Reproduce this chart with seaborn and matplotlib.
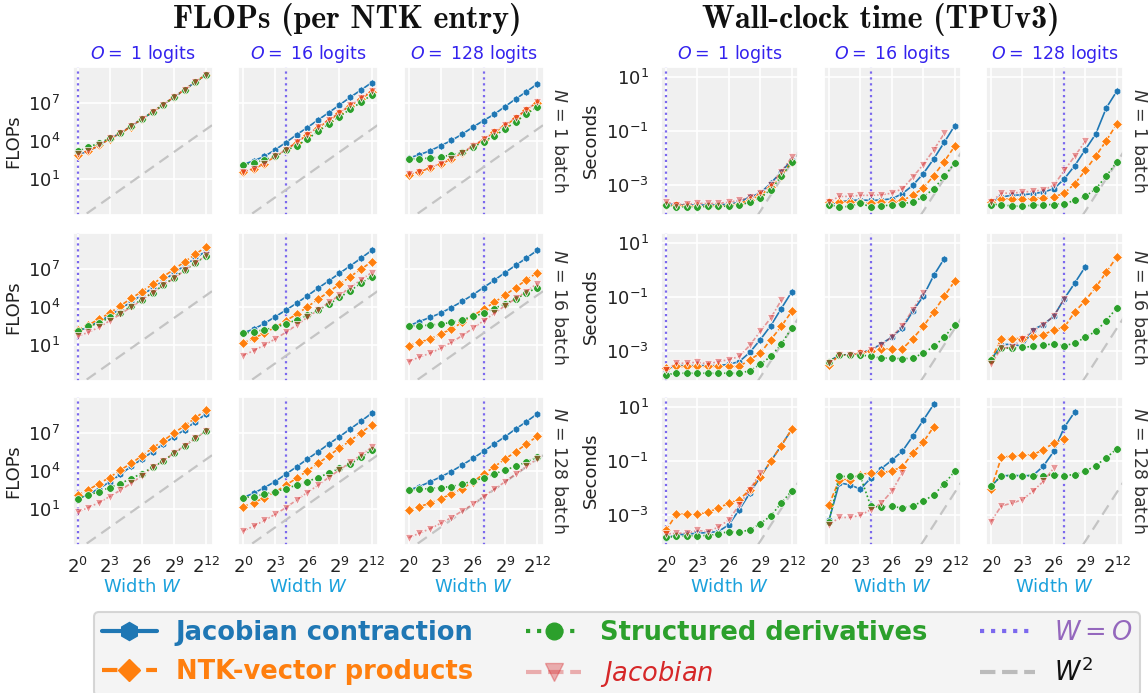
import os
import numpy as np
import pandas as pd
import matplotlib
matplotlib.use("Agg")
import matplotlib.pyplot as plt
from matplotlib.lines import Line2D
from matplotlib.ticker import LogFormatterMathtext, NullLocator
from matplotlib.font_manager import FontProperties
import seaborn as sns

sns.set_theme(style="darkgrid", rc={"axes.facecolor": "#f0f0f0", "grid.color": "white",
                                    "grid.linewidth": 1.2})

WIDTHS = [1, 2, 4, 8, 16, 32, 64, 128, 256, 512, 1024, 2048, 4096]
OUTPUTS = [1, 16, 128]
BATCHES = [1, 16, 128]
METHODS = ["Jacobian contraction", "NTK-vector products", "Structured derivatives", "Jacobian"]
KEYS = ["jc", "ntk", "sd", "jac"]

# log10 of FLOPs, per (batch N, logits O) panel
flops_n1_o1 = dict(
    jc=[2.9, 3.2, 3.65, 4.2, 4.6, 5.2, 5.75, 6.3, 6.9, 7.5, 8.1, 8.7, 9.3],
    ntk=[2.85, 3.2, 3.65, 4.15, 4.6, 5.15, 5.75, 6.3, 6.9, 7.5, 8.1, 8.7, 9.3],
    sd=[3.17, 3.5, 3.83, 4.2, 4.62, 5.2, 5.75, 6.3, 6.88, 7.48, 8.08, 8.68, 9.28],
    jac=[2.95, 3.2, 3.65, 4.2, 4.6, 5.2, 5.75, 6.32, 6.9, 7.5, 8.1, 8.7, 9.3])
flops_n1_o16 = dict(
    jc=[2.11, 2.43, 2.77, 3.3, 3.88, 4.5, 5.07, 5.68, 6.26, 6.87, 7.48, 8.06, 8.65],
    ntk=[1.5, 1.77, 2.2, 2.77, 3.3, 3.88, 4.5, 5.07, 5.63, 6.2, 6.8, 7.35, 7.93],
    sd=[2.11, 2.24, 2.5, 2.77, 3.25, 3.62, 4.15, 4.76, 5.37, 5.95, 6.53, 7.08, 7.67],
    jac=[1.55, 1.8, 2.2, 2.77, 3.3, 3.9, 4.5, 5.1, 5.68, 6.26, 6.85, 7.42, 8.0])
flops_n1_o128 = dict(
    jc=[2.64, 2.9, 3.22, 3.62, 4.04, 4.54, 5.1, 5.63, 6.13, 6.74, 7.35, 7.93, 8.54],
    ntk=[1.32, 1.53, 1.85, 2.16, 2.56, 3.04, 3.57, 4.1, 4.68, 5.23, 5.81, 6.48, 7.06],
    sd=[2.56, 2.59, 2.64, 2.72, 2.9, 3.1, 3.5, 3.96, 4.41, 4.94, 5.55, 6.13, 6.74],
    jac=[1.35, 1.55, 1.88, 2.2, 2.6, 3.08, 3.6, 4.15, 4.72, 5.28, 5.86, 6.5, 7.1])
flops_n16_o1 = dict(
    jc=[2.03, 2.4, 2.85, 3.3, 3.85, 4.4, 4.95, 5.5, 6.1, 6.7, 7.3, 7.9, 8.46],
    ntk=[2.16, 2.56, 3.04, 3.51, 4.1, 4.68, 5.23, 5.81, 6.42, 7.0, 7.61, 8.2, 8.8],
    sd=[2.08, 2.45, 2.72, 3.17, 3.51, 4.1, 4.57, 5.15, 5.73, 6.34, 6.93, 7.53, 8.06],
    jac=[1.66, 1.98, 2.38, 2.9, 3.43, 4.0, 4.55, 5.15, 5.73, 6.29, 6.93, 7.48, 8.12])
flops_n16_o16 = dict(
    jc=[1.93, 2.24, 2.69, 3.22, 3.75, 4.3, 4.89, 5.5, 6.08, 6.69, 7.27, 7.88, 8.51],
    ntk=[1.13, 1.5, 1.93, 2.38, 2.9, 3.43, 4.0, 4.62, 5.2, 5.81, 6.42, 7.0, 7.61],
    sd=[1.9, 2.03, 2.19, 2.38, 2.64, 2.98, 3.35, 3.75, 4.22, 4.76, 5.29, 5.9, 6.42],
    jac=[0.13, 0.52, 0.97, 1.45, 1.98, 2.56, 3.17, 3.75, 4.36, 4.94, 5.55, 6.16, 6.74])
flops_n16_o128 = dict(
    jc=[2.5, 2.83, 3.17, 3.51, 3.96, 4.44, 4.97, 5.55, 6.13, 6.74, 7.32, 7.9, 8.51],
    ntk=[0.92, 1.18, 1.45, 1.85, 2.24, 2.77, 3.3, 3.83, 4.36, 4.94, 5.55, 6.16, 6.74],
    sd=[2.5, 2.5, 2.56, 2.64, 2.77, 2.98, 3.25, 3.49, 3.88, 4.25, 4.65, 5.1, 5.55],
    jac=[-0.35, 0.0, 0.31, 0.71, 1.18, 1.71, 2.3, 2.9, 3.49, 4.1, 4.68, 5.23, 5.87])
flops_n128_o1 = dict(
    jc=[1.75, 2.15, 2.6, 3.13, 3.73, 4.36, 4.95, 5.53, 6.15, 6.73, 7.29, 7.93, 8.55],
    ntk=[2.09, 2.49, 3.0, 3.48, 4.08, 4.6, 5.21, 5.83, 6.41, 7.03, 7.61, 8.23, 8.87],
    sd=[1.8, 2.07, 2.36, 2.68, 3.0, 3.4, 3.8, 4.28, 4.81, 5.4, 6.01, 6.6, 7.21],
    jac=[0.73, 1.08, 1.48, 1.96, 2.47, 3.03, 3.61, 4.28, 4.81, 5.43, 6.01, 6.6, 7.21])
flops_n128_o16 = dict(
    jc=[1.88, 2.23, 2.68, 3.16, 3.75, 4.33, 4.95, 5.53, 6.15, 6.73, 7.35, 7.96, 8.6],
    ntk=[1.16, 1.48, 1.88, 2.33, 2.87, 3.43, 4.01, 4.6, 5.21, 5.83, 6.41, 7.03, 7.67],
    sd=[1.88, 1.96, 2.15, 2.36, 2.6, 2.87, 3.16, 3.48, 3.83, 4.2, 4.55, 5.08, 5.67],
    jac=[-0.79, -0.39, 0.07, 0.55, 1.08, 1.69, 2.28, 2.87, 3.48, 4.09, 4.68, 5.27, 5.88])
flops_n128_o128 = dict(
    jc=[2.47, 2.76, 3.13, 3.53, 3.96, 4.47, 5.0, 5.56, 6.15, 6.73, 7.35, 7.93, 8.55],
    ntk=[0.87, 1.16, 1.43, 1.8, 2.15, 2.6, 3.13, 3.75, 4.33, 4.95, 5.53, 6.15, 6.76],
    sd=[2.47, 2.55, 2.6, 2.68, 2.76, 2.95, 3.21, 3.43, 3.75, 4.09, 4.36, 4.73, 5.08],
    jac=[-1.32, -0.97, -0.6, -0.17, 0.28, 0.81, 1.35, 1.96, 2.55, 3.13, 3.75, 4.36, 4.95])

# log10 of seconds; shorter lists = runs that did not finish
time_n1_o1 = dict(
    jc=[-3.7, -3.75, -3.75, -3.75, -3.75, -3.75, -3.72, -3.65, -3.45, -3.31, -2.94, -2.53, -2.08],
    ntk=[-3.76, -3.76, -3.78, -3.78, -3.78, -3.78, -3.76, -3.7, -3.55, -3.39, -3.09, -2.66, -2.14],
    sd=[-3.73, -3.82, -3.82, -3.82, -3.8, -3.8, -3.79, -3.76, -3.64, -3.48, -3.18, -2.69, -2.16],
    jac=[-3.64, -3.73, -3.71, -3.69, -3.69, -3.69, -3.64, -3.58, -3.45, -3.31, -3.0, -2.53, -1.98])
time_n1_o16 = dict(
    jc=[-3.73, -3.64, -3.58, -3.56, -3.58, -3.56, -3.52, -3.33, -3.02, -2.59, -2.04, -1.43, -0.81],
    ntk=[-3.64, -3.64, -3.64, -3.64, -3.68, -3.64, -3.64, -3.58, -3.39, -3.12, -2.66, -2.14, -1.57],
    sd=[-3.73, -3.82, -3.8, -3.68, -3.82, -3.8, -3.73, -3.7, -3.64, -3.45, -3.15, -2.69, -2.19],
    jac=[-3.64, -3.43, -3.43, -3.39, -3.39, -3.37, -3.31, -3.15, -2.72, -2.25, -1.71, -1.1])
time_n1_o128 = dict(
    jc=[-3.64, -3.45, -3.39, -3.37, -3.33, -3.27, -3.15, -2.78, -2.29, -1.7, -1.12, -0.16, 0.46],
    ntk=[-3.64, -3.52, -3.54, -3.54, -3.52, -3.48, -3.45, -3.31, -2.96, -2.47, -1.94, -1.37, -0.75],
    sd=[-3.73, -3.73, -3.79, -3.79, -3.76, -3.74, -3.73, -3.7, -3.58, -3.43, -3.15, -2.68, -2.16],
    jac=[-3.64, -3.31, -3.31, -3.27, -3.24, -3.19, -3.02, -2.47, -1.94, -1.39])
time_n16_o1 = dict(
    jc=[-3.71, -3.55, -3.55, -3.55, -3.55, -3.55, -3.5, -3.4, -3.06, -2.59, -2.07, -1.44, -0.82],
    ntk=[-3.64, -3.58, -3.58, -3.58, -3.58, -3.58, -3.58, -3.58, -3.33, -3.09, -2.59, -2.1, -1.54],
    sd=[-3.89, -3.83, -3.83, -3.83, -3.83, -3.83, -3.83, -3.83, -3.74, -3.5, -3.21, -2.75, -2.16],
    jac=[-3.71, -3.46, -3.46, -3.42, -3.49, -3.4, -3.33, -3.21, -2.8, -2.28, -1.79, -1.13])
time_n16_o16 = dict(
    jc=[-3.4, -3.15, -3.15, -3.09, -2.96, -2.75, -2.49, -2.16, -1.54, -0.98, -0.21, 0.41],
    ntk=[-3.54, -3.15, -3.15, -3.09, -3.0, -2.95, -2.93, -2.93, -2.55, -2.1, -1.56, -0.98, -0.42],
    sd=[-3.4, -3.15, -3.15, -3.15, -3.21, -3.27, -3.27, -3.3, -3.27, -3.09, -2.84, -2.5, -2.03],
    jac=[-3.46, -3.15, -3.15, -3.09, -2.96, -2.78, -2.49, -2.07, -1.48, -0.86])
time_n16_o128 = dict(
    jc=[-3.33, -2.78, -2.75, -2.84, -2.22, -2.03, -1.72, -1.07, -0.49, 0.11],
    ntk=[-3.33, -2.55, -2.55, -2.55, -2.47, -2.41, -2.22, -2.13, -1.56, -1.14, -0.65, -0.09, 0.47],
    sd=[-3.33, -2.9, -2.9, -2.87, -2.84, -2.78, -2.75, -2.81, -2.72, -2.5, -2.28, -1.89, -1.41],
    jac=[-3.5, -2.9, -2.87, -2.55, -2.28, -2.03, -1.72, -1.07])
time_n128_o1 = dict(
    jc=[-3.87, -3.74, -3.72, -3.68, -3.66, -3.62, -3.37, -2.81, -2.2, -1.6, -1.02, -0.44, 0.16],
    ntk=[-3.58, -2.98, -2.98, -2.98, -2.91, -2.75, -2.57, -2.44, -2.07, -1.6, -1.02, -0.44, 0.16],
    sd=[-3.84, -3.8, -3.78, -3.77, -3.77, -3.71, -3.62, -3.64, -3.56, -3.33, -3.04, -2.57, -2.11],
    jac=[-3.71, -3.68, -3.68, -3.58, -3.62, -3.46, -3.19, -2.63, -2.07, -1.45])
time_n128_o16 = dict(
    jc=[-3.21, -1.82, -1.89, -2.05, -1.64, -1.29, -0.98, -0.65, -0.09, 0.5, 1.09],
    ntk=[-2.63, -1.7, -1.7, -1.51, -1.45, -1.45, -1.37, -1.23, -0.71, -0.31, 0.26],
    sd=[-3.25, -1.58, -1.58, -1.58, -2.69, -2.71, -2.69, -2.75, -2.66, -2.5, -2.26, -1.86, -1.39],
    jac=[-3.37, -3.1, -3.1, -3.02, -2.81, -2.57, -2.13, -1.45])
time_n128_o128 = dict(
    jc=[-1.95, -1.55, -1.55, -1.55, -1.55, -1.2, -0.65, 0.24, 0.81],
    ntk=[-2.05, -0.87, -0.83, -0.8, -0.78, -0.59, -0.34, -0.21],
    sd=[-1.95, -1.55, -1.55, -1.55, -1.55, -1.55, -1.51, -1.55, -1.51, -1.39, -1.18, -0.89, -0.56],
    jac=[-3.25, -2.67, -2.57, -2.44, -2.13, -1.76, -1.27])

FLOPS = {(1, 1): flops_n1_o1, (1, 16): flops_n1_o16, (1, 128): flops_n1_o128,
         (16, 1): flops_n16_o1, (16, 16): flops_n16_o16, (16, 128): flops_n16_o128,
         (128, 1): flops_n128_o1, (128, 16): flops_n128_o16, (128, 128): flops_n128_o128}
TIMES = {(1, 1): time_n1_o1, (1, 16): time_n1_o16, (1, 128): time_n1_o128,
         (16, 1): time_n16_o1, (16, 16): time_n16_o16, (16, 128): time_n16_o128,
         (128, 1): time_n128_o1, (128, 16): time_n128_o16, (128, 128): time_n128_o128}

PALETTE = {"Jacobian contraction": "#1f77b4", "NTK-vector products": "#ff7f0e",
           "Structured derivatives": "#2ca02c", "Jacobian": (0.84, 0.15, 0.16, 0.45)}
MARKERS = {"Jacobian contraction": "h", "NTK-vector products": "D",
           "Structured derivatives": "o", "Jacobian": "v"}
DASHES = {"Jacobian contraction": "", "NTK-vector products": (3, 1.5),
          "Structured derivatives": (1, 1.5), "Jacobian": (3, 1.2, 1, 1.2)}
VLINE = "#7b68ee"
XLAB = "#1ba1dc"
TITLE_BLUE = "#3322ee"


def panel_frame(panel):
    rows = []
    for key, name in zip(KEYS, METHODS):
        for w, v in zip(WIDTHS, panel[key]):
            rows.append({"W": w, "value": 10 ** v, "method": name})
    return pd.DataFrame(rows)


W, H = 1148, 693
fig = plt.figure(figsize=(W / 100, H / 100), dpi=100)

groups = [
    dict(data=FLOPS, xs=[72.5, 238, 403.5], pw=140, ylim=(10 ** -1.86, 10 ** 9.9),
         yticks=[1e1, 1e4, 1e7], ylabel="FLOPs", ref=10 ** -2.3),
    dict(data=TIMES, xs=[661, 824, 986], pw=137, ylim=(10 ** -4.1, 10 ** 1.36),
         yticks=[1e-3, 1e-1, 1e1], ylabel="Seconds", ref=10 ** -9.4),
]
row_tops = [67, 233, 397]
ph = 147.5
w_ref = np.array([2 ** -0.5, 2 ** 12.7])

for g in groups:
    for i, n in enumerate(BATCHES):
        for j, o in enumerate(OUTPUTS):
            x0, y0 = g["xs"][j], row_tops[i]
            ax = fig.add_axes([x0 / W, 1 - (y0 + ph) / H, g["pw"] / W, ph / H])
            ax.set_xscale("log", base=2)
            ax.set_yscale("log")
            ax.axvline(o, color=VLINE, ls=":", lw=1.6, zorder=1)
            ax.plot(w_ref, g["ref"] * w_ref ** 2, color="#c4c4c4", lw=1.6,
                    dashes=(5, 3), zorder=1)
            df = panel_frame(g["data"][(n, o)])
            sns.lineplot(data=df, x="W", y="value", hue="method", style="method",
                         hue_order=METHODS, style_order=METHODS, palette=PALETTE,
                         markers=MARKERS, dashes=DASHES, markersize=5.5, linewidth=1.2,
                         markeredgecolor="white", markeredgewidth=0.5,
                         legend=False, ax=ax, zorder=3)
            ax.set_xlim(2 ** -0.47, 2 ** 12.6)
            ax.set_ylim(*g["ylim"])
            ax.set_xticks([1, 8, 64, 512, 4096])
            ax.set_yticks(g["yticks"])
            ax.xaxis.set_minor_locator(NullLocator())
            ax.yaxis.set_minor_locator(NullLocator())
            ax.xaxis.set_major_formatter(LogFormatterMathtext(base=2))
            ax.yaxis.set_major_formatter(LogFormatterMathtext(base=10))
            ax.tick_params(labelsize=13, colors="#222222", pad=3)
            ax.set_xlabel("")
            ax.set_ylabel("")
            if i < 2:
                ax.set_xticklabels([])
            else:
                ax.set_xlabel("Width $W$", color=XLAB, fontsize=13, labelpad=1)
            if j > 0:
                ax.set_yticklabels([])
            else:
                ax.set_ylabel(g["ylabel"], fontsize=13, color="#222222")
            if i == 0:
                ax.set_title(f"$O = $ {o} logits", color=TITLE_BLUE, fontsize=12.5, pad=6)
            if j == 2:
                ax.text(1.05, 0.5, f"$N$ = {n} batch", transform=ax.transAxes,
                        rotation=270, va="center", ha="left", fontsize=12.5, color="#333333")

cm_bold = FontProperties(fname=os.path.join(matplotlib.get_data_path(), "fonts/ttf/cmb10.ttf"),
                         size=23)
fig.text(347 / W, 1 - 20 / H, "FLOPs (per NTK entry)", fontproperties=cm_bold,
         ha="center", va="center", color="#111111")
fig.text(881 / W, 1 - 20 / H, "Wall-clock time (TPUv3)", fontproperties=cm_bold,
         ha="center", va="center", color="#111111")

handles = [
    Line2D([], [], color="#1f77b4", marker="h", ls="-", lw=3, markersize=13),
    Line2D([], [], color="#ff7f0e", marker="D", ls="--", lw=3, markersize=11),
    Line2D([], [], color="#2ca02c", marker="o", ls=":", lw=3, markersize=12),
    Line2D([], [], color=(0.84, 0.15, 0.16, 0.35), marker="v", ls="--", lw=3, markersize=13),
    Line2D([], [], color=VLINE, ls=":", lw=3),
    Line2D([], [], color="#bbbbbb", ls="--", lw=3),
]
labels = ["Jacobian contraction", "NTK-vector products", "Structured derivatives",
          "$Jacobian$", "$W = O$", "$W^2$"]
leg = fig.legend(handles, labels, ncol=3, loc="upper left",
                 bbox_to_anchor=(94 / W, 1 - 612 / H), borderaxespad=0, fontsize=18.5,
                 frameon=True, handlelength=2.15, handletextpad=0.73, columnspacing=2.05,
                 labelspacing=0.5, borderpad=0.3, facecolor="#f2f2f2", edgecolor="#cccccc")
text_colors = ["#1f77b4", "#ff7f0e", "#2ca02c", "#d62728", "#9467bd", "#111111"]
for k, t in enumerate(leg.get_texts()):
    t.set_color(text_colors[k])
    if k < 3:
        t.set_fontweight("bold")
leg.get_frame().set_linewidth(1.5)

fig.savefig("out.png", dpi=100)
